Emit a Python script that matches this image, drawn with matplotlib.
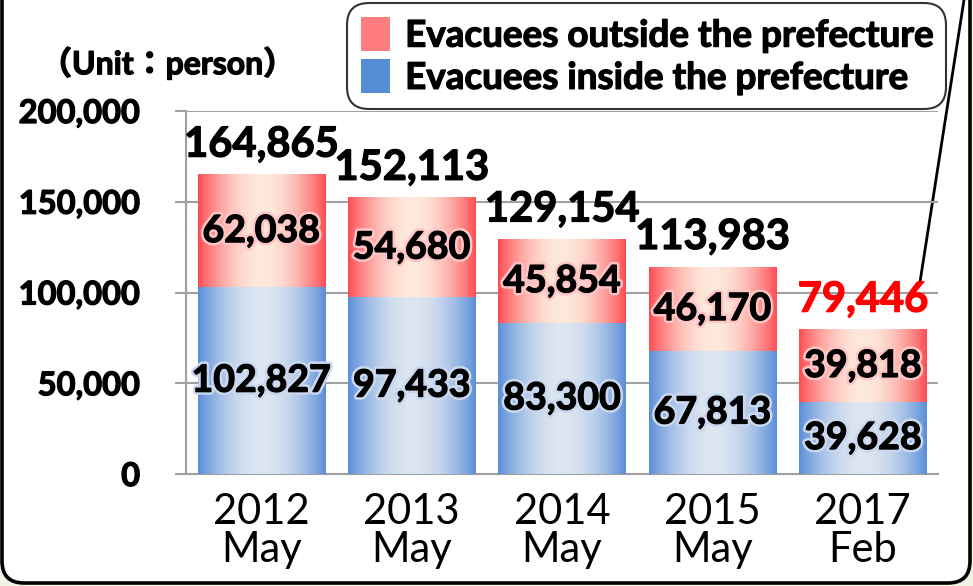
import numpy as np
import matplotlib
matplotlib.use("Agg")
import matplotlib.pyplot as plt
from matplotlib.patches import FancyBboxPatch
from matplotlib.lines import Line2D
import matplotlib.patheffects as pe

# data
periods = ["2012\nMay", "2013\nMay", "2014\nMay", "2015\nMay", "2017\nFeb"]
inside = [102827, 97433, 83300, 67813, 39628]
outside = [62038, 54680, 45854, 46170, 39818]
totals = [164865, 152113, 129154, 113983, 79446]
total_colors = ["black", "black", "black", "black", "red"]

plt.rcParams["font.family"] = ["Lato", "Noto Sans CJK JP", "DejaVu Sans"]


def heavy(color="black", glow=None):
    # thicken Lato Bold a little so it reads like the original heavy face
    fx = []
    if glow:
        fx.append(pe.withStroke(linewidth=4.5, foreground=glow))
    fx.append(pe.withStroke(linewidth=0.9, foreground=color))
    return fx


fig = plt.figure(figsize=(9.73, 5.86), dpi=100, facecolor="#eef3e3")
W, H = 973, 586

# rounded frame (top runs off the picture)
frame = FancyBboxPatch((0.02, 0.03), 9.68, 6.5, boxstyle="round,pad=0,rounding_size=0.22",
                       transform=fig.dpi_scale_trans, facecolor="white",
                       edgecolor="black", linewidth=2.6, zorder=-5)
fig.patches.append(frame)

ax = fig.add_axes([186 / W, 112 / H, 752 / W, 363 / H])
ax.set_zorder(2)
ax.set_facecolor("none")

x = np.arange(len(periods))
bw = 0.845
b_in = ax.bar(x, inside, bw, color="#558ed5", label="Evacuees inside the prefecture", zorder=2)
b_out = ax.bar(x, outside, bw, bottom=inside, color="#ff7c80",
               label="Evacuees outside the prefecture", zorder=2)


def grad(edge, mid):
    t = np.linspace(0, 1, 200)
    f = np.sin(np.pi * t) ** 0.9
    e = np.array(matplotlib.colors.to_rgb(edge))
    m = np.array(matplotlib.colors.to_rgb(mid))
    return (e[None, :] * (1 - f[:, None]) + m[None, :] * f[:, None])[None, :, :]


g_in = grad("#5a8ed8", "#dde6f1")
g_out = grad("#ff4b52", "#fde9dc")
for bars, g in ((b_in, g_in), (b_out, g_out)):
    for r in bars:
        x0, y0 = r.get_x(), r.get_y()
        ax.imshow(g, extent=(x0, x0 + r.get_width(), y0, y0 + r.get_height()),
                  aspect="auto", zorder=3, interpolation="bilinear")

ax.set_xlim(-0.5, len(periods) - 0.5)
ax.set_ylim(0, 200000)
ax.set_yticks(np.arange(0, 200001, 50000))
ax.set_yticklabels([f"{v:,}" for v in range(0, 200001, 50000)], fontsize=23.5, fontweight="bold")
for t in ax.get_yticklabels():
    t.set_path_effects(heavy())
ax.set_xticks(x)
ax.set_xticklabels(periods, fontsize=30, linespacing=1.0)
ax.tick_params(axis="x", length=0, pad=14)
ax.tick_params(axis="y", length=8, color="#a0a0a0", width=1.5, pad=25)
ax.grid(axis="y", color="#a0a0a0", linewidth=1.5, zorder=1)
for s in ("top", "right"):
    ax.spines[s].set_visible(False)
for s in ("left", "bottom"):
    ax.spines[s].set_color("#a0a0a0")
    ax.spines[s].set_linewidth(1.5)

# segment labels
for i in range(len(periods)):
    ax.text(x[i], inside[i] / 2, f"{inside[i]:,}", ha="center", va="center",
            fontsize=27, fontweight="bold", zorder=5, path_effects=heavy(glow="#c9d8ee"))
    ax.text(x[i], inside[i] + outside[i] / 2, f"{outside[i]:,}", ha="center", va="center",
            fontsize=27, fontweight="bold", zorder=5, path_effects=heavy(glow="#ffc4c4"))
    ax.annotate(f"{totals[i]:,}", (x[i], totals[i]), xytext=(0, 8), textcoords="offset points",
                ha="center", va="bottom", fontsize=30, fontweight="bold",
                color=total_colors[i], zorder=5, path_effects=heavy(total_colors[i]))

fig.text(40 / W, 1 - 63 / H, "（Unit：person）", fontsize=23, fontweight="bold", va="center",
         path_effects=heavy())

h, l = ax.get_legend_handles_labels()
leg = fig.legend(h[::-1], l[::-1], loc="upper left", bbox_to_anchor=(347 / W, 1 - 3 / H),
                 prop={"weight": "bold", "size": 26.5}, frameon=True, fancybox=True,
                 edgecolor="black", handlelength=0.8, handleheight=1.05, handletextpad=0.4,
                 labelspacing=0.18, borderpad=0.38, borderaxespad=0)
leg.get_frame().set_linewidth(1.5)
leg.get_frame().set_boxstyle("round,pad=0,rounding_size=0.6")
for t in leg.get_texts():
    t.set_path_effects(heavy())

# callout line to the latest total
fig.add_artist(Line2D([964 / W, 920 / W], [1.0, 1 - 282 / H], color="black", linewidth=2))

fig.savefig("out.png", dpi=100, facecolor=fig.get_facecolor())
